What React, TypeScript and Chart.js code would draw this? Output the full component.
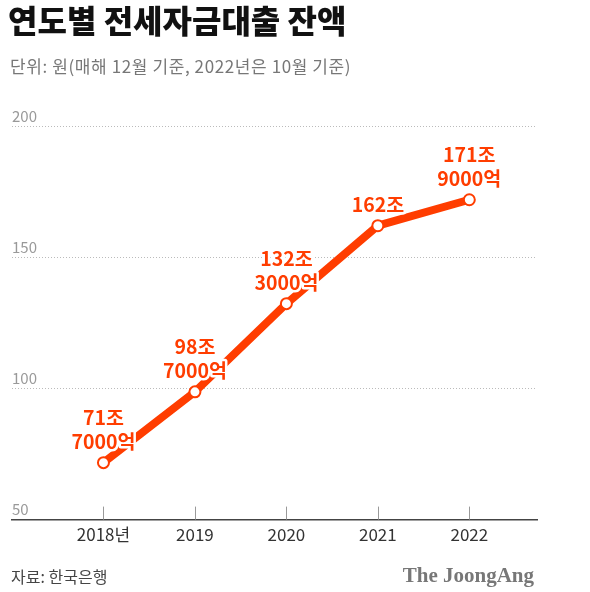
import React, { useEffect, useRef } from "react";
import { Chart, registerables } from "chart.js";

Chart.register(...registerables);

// 연도별 전세자금대출 잔액 (단위: 조원)
const years = [2018, 2019, 2020, 2021, 2022];
const yearLabels = ["2018년", "2019", "2020", "2021", "2022"];
const balances = [71.7, 98.7, 132.3, 162, 171.9];
const valueLabels = [
  ["71조", "7000억"],
  ["98조", "7000억"],
  ["132조", "3000억"],
  ["162조"],
  ["171조", "9000억"],
];
const yTicks = [50, 100, 150, 200];

const TITLE = "연도별 전세자금대출 잔액";
const SUBTITLE = "단위: 원(매해 12월 기준, 2022년은 10월 기준)";
const SOURCE = "자료: 한국은행";
const BRAND = "The JoongAng";

const ACCENT = "#ff3d00";
const KR = "'Noto Sans CJK KR', 'Noto Sans', sans-serif";

const textPlugin = {
  id: "headerFooter",
  afterDraw(chart: any) {
    const ctx = chart.ctx as CanvasRenderingContext2D;
    ctx.save();
    ctx.textBaseline = "middle";
    ctx.textAlign = "left";
    ctx.fillStyle = "#111";
    ctx.font = `900 32px ${KR}`;
    ctx.fillText(TITLE, 8, 21);
    ctx.fillStyle = "#777";
    ctx.font = `400 17px ${KR}`;
    (ctx as any).letterSpacing = "0.6px";
    ctx.fillText(SUBTITLE, 10, 67);
    (ctx as any).letterSpacing = "0px";
    ctx.fillStyle = "#444";
    ctx.font = `400 16px ${KR}`;
    ctx.fillText(SOURCE, 11, 577);
    ctx.fillStyle = "#777";
    ctx.textAlign = "right";
    ctx.font = `700 21px 'Liberation Serif', 'DejaVu Serif', serif`;
    ctx.fillText(BRAND, 534, 577);
    ctx.restore();
  },
};

// short tick marks standing on the x axis
const tickMarkPlugin = {
  id: "tickMarks",
  beforeDatasetsDraw(chart: any) {
    const ctx = chart.ctx as CanvasRenderingContext2D;
    const xs = chart.scales.x;
    const bottom = chart.chartArea.bottom;
    ctx.save();
    ctx.strokeStyle = "#999";
    ctx.lineWidth = 1;
    years.forEach((yr) => {
      const px = Math.round(xs.getPixelForValue(yr)) + 0.5;
      ctx.beginPath();
      ctx.moveTo(px, bottom - 13);
      ctx.lineTo(px, bottom);
      ctx.stroke();
    });
    ctx.restore();
  },
};

// value captions above each point
const valueLabelPlugin = {
  id: "valueLabels",
  afterDatasetsDraw(chart: any) {
    const ctx = chart.ctx as CanvasRenderingContext2D;
    const meta = chart.getDatasetMeta(0);
    ctx.save();
    ctx.font = `700 19.5px ${KR}`;
    ctx.textAlign = "center";
    ctx.textBaseline = "middle";
    ctx.lineJoin = "round";
    meta.data.forEach((pt: any, i: number) => {
      const lines = valueLabels[i];
      lines.forEach((line, j) => {
        const fromBottom = lines.length - 1 - j;
        const y = pt.y - 21 - fromBottom * 24;
        const x = pt.x;
        ctx.strokeStyle = "#fff";
        ctx.lineWidth = 5;
        ctx.strokeText(line, x, y);
        ctx.fillStyle = ACCENT;
        ctx.fillText(line, x, y);
      });
    });
    ctx.restore();
  },
};

export default function App() {
  const ref = useRef<HTMLCanvasElement>(null);

  useEffect(() => {
    if (!ref.current) return;
    const chart = new Chart(ref.current, {
      type: "line",
      data: {
        datasets: [
          {
            data: years.map((yr, i) => ({ x: yr, y: balances[i] })),
            borderColor: ACCENT,
            borderWidth: 8,
            backgroundColor: ACCENT,
            pointRadius: 5.5,
            pointBackgroundColor: "#fff",
            pointBorderColor: ACCENT,
            pointBorderWidth: 2,
            tension: 0,
          },
        ],
      },
      options: {
        animation: false,
        responsive: false,
        events: [],
        layout: { padding: { left: 12, right: 53, top: 126, bottom: 42 } },
        plugins: { legend: { display: false }, tooltip: { enabled: false } },
        scales: {
          x: {
            type: "linear",
            min: 2017,
            max: 2022.74,
            afterBuildTicks: (scale: any) => {
              scale.ticks = years.map((v) => ({ value: v }));
            },
            grid: { display: false, drawTicks: false },
            border: { display: true, color: "#444", width: 1.5 },
            ticks: {
              padding: 5,
              color: "#333",
              font: { family: KR, size: 17 },
              callback: (v: any) => yearLabels[years.indexOf(v)] ?? "",
            },
          },
          y: {
            min: 50,
            max: 200,
            afterBuildTicks: (scale: any) => {
              scale.ticks = yTicks.map((v) => ({ value: v }));
            },
            grid: {
              drawTicks: false,
              lineWidth: 1,
              color: (c: any) => (c.tick && c.tick.value === 50 ? "rgba(0,0,0,0)" : "#bbb"),
            },
            border: { display: false, dash: [1, 2] },
            ticks: {
              mirror: true,
              padding: 0,
              labelOffset: -10,
              color: "#999",
              font: { family: KR, size: 15 },
            },
          },
        },
      },
      plugins: [tickMarkPlugin, valueLabelPlugin, textPlugin],
    } as any);
    return () => chart.destroy();
  }, []);

  return (
    <div style={{ position: "absolute", left: 0, top: 0, width: 590, height: 592, background: "#fff" }}>
      <canvas ref={ref} width={590} height={592} />
    </div>
  );
}
